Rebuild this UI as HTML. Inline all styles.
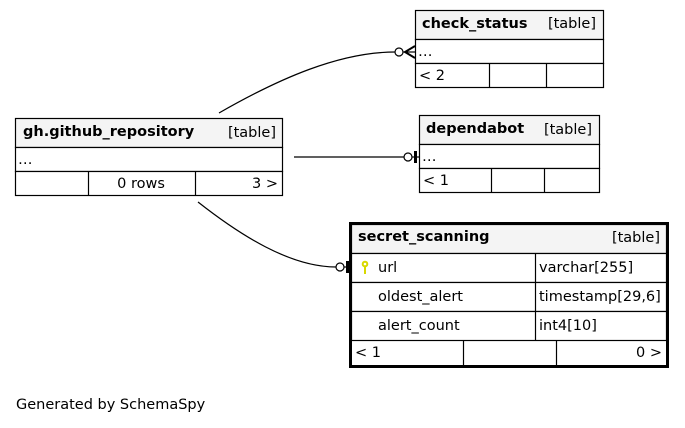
<!DOCTYPE html>
<html><head><style>
body{margin:0;background:#fff;width:685px;height:423px;overflow:hidden}
text{font-family:"DejaVu Sans","Liberation Sans",sans-serif;font-size:14.5px;fill:#000}
.b{font-weight:bold}
</style></head><body>
<svg width="685" height="423" xmlns="http://www.w3.org/2000/svg">
<g fill="none" stroke="#000" stroke-width="1.2">
<path d="M219,113 C280,78 340,52 395,52"/>
<line x1="403" y1="52" x2="415" y2="52"/>
<path d="M415,46 L405,52 L415,58" stroke-width="2"/>
<path d="M294,157 L404,157"/>
<path d="M198,202 C240,235 290,267 336,267"/>
</g>
<circle cx="399" cy="52" r="4" fill="#fff" stroke="#000" stroke-width="1.2"/>
<circle cx="408" cy="157" r="4" fill="#fff" stroke="#000" stroke-width="1.2"/>
<line x1="412" y1="157" x2="419" y2="157" stroke="#000" stroke-width="1.2"/>
<rect x="414" y="151" width="3" height="12" fill="#000"/>
<circle cx="340" cy="267" r="4" fill="#fff" stroke="#000" stroke-width="1.2"/>
<line x1="344" y1="267" x2="350" y2="267" stroke="#000" stroke-width="1.2"/>
<rect x="346" y="261" width="3" height="12" fill="#000"/>

<g stroke="#000" stroke-width="1.2">
<rect x="415.5" y="10.5" width="188" height="29" fill="#f4f4f4"/>
<rect x="415.5" y="39.5" width="188" height="24" fill="#fff"/>
<rect x="415.5" y="63.5" width="188" height="24" fill="#fff"/>
<line x1="489.5" y1="63.5" x2="489.5" y2="87.5"/><line x1="546.5" y1="63.5" x2="546.5" y2="87.5"/>
<rect x="419.5" y="115.5" width="180" height="29" fill="#f4f4f4"/>
<rect x="419.5" y="144.5" width="180" height="24" fill="#fff"/>
<rect x="419.5" y="168.5" width="180" height="24" fill="#fff"/>
<line x1="491.5" y1="168.5" x2="491.5" y2="192.5"/><line x1="544.5" y1="168.5" x2="544.5" y2="192.5"/>
<rect x="15.5" y="118.5" width="267" height="29" fill="#f4f4f4"/>
<rect x="15.5" y="147.5" width="267" height="24" fill="#fff"/>
<rect x="15.5" y="171.5" width="267" height="24" fill="#fff"/>
<line x1="88.5" y1="171.5" x2="88.5" y2="195.5"/><line x1="195.5" y1="171.5" x2="195.5" y2="195.5"/>
<rect x="350.5" y="223.5" width="317" height="143" fill="#fff" stroke-width="3"/>
<rect x="351.5" y="224.5" width="315" height="29" fill="#f4f4f4"/>
<rect x="351.5" y="253.5" width="315" height="29" fill="#fff"/>
<rect x="351.5" y="282.5" width="315" height="29" fill="#fff"/>
<rect x="351.5" y="311.5" width="315" height="29" fill="#fff"/>
<line x1="535.5" y1="253.5" x2="535.5" y2="340.5"/>
<line x1="463.5" y1="340.5" x2="463.5" y2="365"/><line x1="556.5" y1="340.5" x2="556.5" y2="365"/>
</g>

<text x="422" y="28" class="b">check_status</text><text x="596" y="28" text-anchor="end">[table]</text>
<text x="418" y="56">…</text><text x="419" y="80">&lt; 2</text>

<text x="426" y="133" class="b">dependabot</text><text x="592" y="134" text-anchor="end">[table]</text>
<text x="422" y="161">…</text><text x="423" y="185">&lt; 1</text>

<text x="23" y="136" class="b">gh.github_repository</text><text x="276" y="137" text-anchor="end">[table]</text>
<text x="18" y="164">…</text>
<text x="141" y="188" text-anchor="middle">0 rows</text><text x="278" y="188" text-anchor="end">3 &gt;</text>

<text x="358" y="241" class="b">secret_scanning</text><text x="660" y="242" text-anchor="end">[table]</text>
<g stroke="#d8d800" stroke-width="2" fill="none"><circle cx="365" cy="264" r="2.3"/><line x1="365" y1="266" x2="365" y2="274"/></g>
<text x="378" y="272">url</text><text x="539" y="272">varchar[255]</text>
<text x="378" y="301">oldest_alert</text><text x="539" y="301">timestamp[29,6]</text>
<text x="378" y="330">alert_count</text><text x="539" y="330">int4[10]</text>
<text x="355" y="357">&lt; 1</text><text x="662" y="357" text-anchor="end">0 &gt;</text>

<text x="16" y="409">Generated by SchemaSpy</text>
</svg>
</body></html>
